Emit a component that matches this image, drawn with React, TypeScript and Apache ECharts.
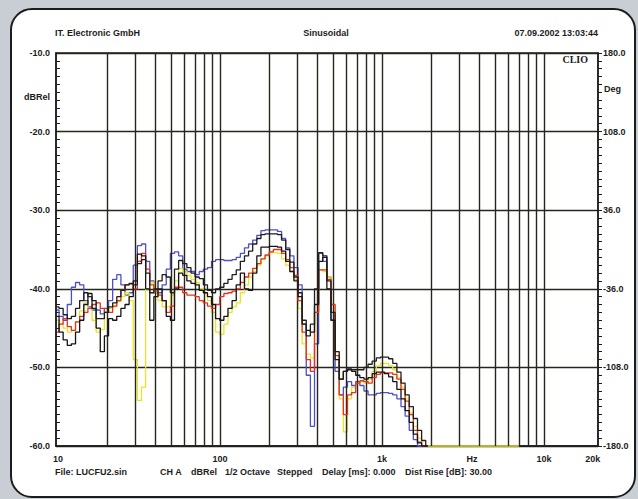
import React, { useEffect, useRef } from "react";
import * as echarts from "echarts";

// Frequencies (Hz) of the stepped measurement points
const freqs = [
  9.86, 10.45, 11.08, 11.75, 12.46, 13.21, 14.01, 14.86, 15.75, 16.7,
  17.71, 18.78, 19.92, 21.12, 22.39, 23.74, 25.18, 26.69, 28.3, 30.01,
  31.82, 33.75, 35.78, 37.94, 40.23, 42.66, 45.23, 47.96, 50.86, 53.93,
  57.18, 60.63, 64.29, 68.17, 72.28, 76.65, 81.27, 86.18, 91.2, 96.7,
  102.6, 108.8, 115.3, 122.3, 129.7, 137.5, 145.8, 154.5, 163.9, 173.8,
  184.2, 195.4, 207.2, 219.6, 232.9, 247, 261.9, 277.6, 294.4, 312.2,
  330.9, 350.9, 372.1, 394.5, 418.3, 443.6, 470.3, 498.7, 528.7, 560.6,
  594.4, 630.3, 668.3, 708.6, 751.4, 796.7, 844.7, 895.7, 949.7, 1006,
  1067, 1131, 1200, 1272, 1349, 1430, 1516, 1608, 1705, 1808,
  1917,
];

const blue = [
  -42.7, -43.5, -44, -42, -39.8, -39.2, -39.5, -41.5, -42.3, -42.7,
  -42.7, -43.2, -42.5, -41.5, -38.8, -38.2, -39.5, -40.8, -40.5, -37,
  -34.5, -34.3, -36.5, -39, -40.5, -40.5, -39.5, -37.5, -35.5, -35.3,
  -35.8, -37.5, -37.8, -37.8, -38.2, -37.8, -37.5, -37.3, -36.5, -36.3,
  -36.3, -36.4, -36.4, -36.3, -36, -35.5, -34.8, -34.3, -33.8, -33.2,
  -32.6, -32.5, -32.5, -32.5, -32.7, -33.6, -34.8, -35.8, -37.3, -39.5,
  -44.5, -51, -57.5, -47, -35.5, -36.5, -38.5, -44, -50.5, -53.5,
  -52.5, -51.8, -52.3, -51.8, -52.3, -53, -53.5, -53.5, -53.3, -53.2,
  -53.2, -53.3, -53.5, -54, -55, -56.2, -58, -59.2, -60, -60,
  -60,
];

const red = [
  -45.5, -44.5, -43.8, -44.8, -45.3, -44.2, -43.5, -43, -42.5, -42,
  -41.8, -42.5, -43, -43, -42.2, -41.5, -40.2, -39.5, -39.4, -40,
  -36.5, -35.5, -37.5, -39.5, -40.3, -40.8, -41.5, -43, -42.2, -39.8,
  -39.8, -40.5, -40.8, -40.8, -41, -41.5, -41.8, -42.2, -42.5, -42,
  -41, -40.6, -40.5, -40.3, -40, -39.2, -38.5, -38, -37.4, -36.8,
  -36.2, -35.7, -35.3, -35, -35, -35.5, -36.3, -37.3, -38.3, -41.5,
  -45.5, -49, -50.5, -43, -37.6, -37.6, -38.8, -42, -48.5, -53.5,
  -56, -53.5, -53.2, -52, -51.7, -51.8, -52, -51.3, -50.9, -50.7,
  -50.7, -50.7, -50.9, -51.5, -52.8, -54.3, -56, -58, -59.5, -60,
  -60,
];

const yellow = [
  -44, -44.5, -45, -45.5, -45.3, -44.2, -42.8, -41.8, -42.5, -44,
  -45.5, -45.2, -43, -42.5, -42.3, -41.6, -41, -40.5, -41.5, -49,
  -54.2, -52.5, -40, -39.2, -40.5, -41.5, -42.3, -42.3, -40.8, -39,
  -37.4, -37.8, -38.3, -38.8, -39.2, -40, -40.5, -41.5, -43, -45.5,
  -45.8, -44.5, -43, -42.3, -41.8, -40.5, -39.5, -38.5, -37.8, -37,
  -36.2, -35.8, -35.4, -35.4, -35.5, -36.2, -37, -37.8, -38.8, -42.5,
  -47, -48.3, -48.8, -43, -37.6, -37.8, -38.5, -42, -48, -54,
  -58.2, -54, -52.5, -52, -51.8, -52, -51.5, -50.5, -49.8, -49.5,
  -49.5, -49.8, -50.3, -51.3, -52.5, -54, -55.8, -57.5, -59, -60,
  -60,
];
// the yellow trace keeps running along the floor up to this frequency
const yellowTailFreq = 7000;
const yellowTailValue = -60;

const black1 = [
  -43.5, -45.5, -46.5, -47.2, -47, -45.5, -44, -42, -40.6, -41.5,
  -45, -48, -46, -43.8, -44, -43.5, -42.5, -42, -41, -39,
  -35.6, -35.8, -40, -44, -41, -40, -41.5, -43.5, -44, -40,
  -38, -38.3, -39, -39.3, -39.5, -40.2, -40.5, -41, -42, -43.8,
  -44, -43.5, -42.5, -41.5, -39.5, -38, -40, -40.2, -38, -35.8,
  -34.7, -34.7, -34.6, -34.6, -34.7, -35.2, -36.5, -37.8, -39, -41,
  -44.5, -45.3, -45.5, -42, -36.5, -36, -40, -44, -49, -51.5,
  -50.5, -50.3, -50.5, -51, -51.3, -51.5, -51.3, -50.8, -50.6, -50.6,
  -50.8, -51.2, -51.8, -52.8, -54, -55.5, -57, -58.5, -59.6, -60,
  -60,
];

const black2 = [
  -42.3, -42.5, -43.3, -43.8, -43.5, -42.5, -41.5, -40.5, -41, -42.5,
  -43.8, -43.8, -43, -42.3, -41.8, -41, -40.2, -39.5, -39.3, -39.5,
  -36.8, -36.3, -38, -40.5, -40, -39, -38.2, -38.5, -40.5, -37.5,
  -36.4, -36.8, -37.3, -38, -38.5, -38.7, -39.5, -40.2, -40.5, -40,
  -39.8, -39.3, -38.8, -38.2, -37.6, -36.5, -35.8, -35.2, -34.3, -33.6,
  -33.1, -33, -33, -33, -33.1, -33.8, -35, -36.6, -38.5, -40.5,
  -44, -46, -44.5, -40, -35.4, -35.8, -39, -43, -48, -51.5,
  -50.5, -50.2, -50.3, -50.3, -50.3, -50, -49.6, -49.2, -48.8, -48.7,
  -48.7, -48.9, -49.5, -50.6, -52, -53.5, -55, -56.5, -58, -59.3,
  -60,
];

// Axis ranges / ticks
const xMin = 9.72;
const xMax = 21540;
const gridFreqs = [
  20, 30, 40, 50, 60, 70, 80, 90, 100,
  200, 300, 400, 500, 600, 700, 800, 900, 1000,
  2000, 3000, 4000, 5000, 6000, 7000, 8000, 9000, 10000,
];
const xTickValues = [10, 100, 1000, 10000, 20000];
const xTickLabels = ["10", "100", "1k", "10k", "20k"];
const dbMin = -60;
const dbMax = -10;
const dbStep = 10;
const degLabels = ["-180.0", "-108.0", "-36.0", "36.0", "108.0", "180.0"];

const FONT = "'Liberation Sans', Arial, sans-serif";
const INK = "#1c1c1c";
const GRIDINK = "#26261c";

const txt = (text: string, x: number, y: number, align = "left", extra: any = {}) => ({
  type: "text",
  x,
  y,
  silent: true,
  style: {
    text,
    fill: INK,
    font: `bold 9px ${FONT}`,
    align,
    verticalAlign: "middle",
    ...extra,
  },
});

export default function App() {
  const ref = useRef<HTMLDivElement>(null);

  useEffect(() => {
    if (!ref.current) return;
    const chart = echarts.init(ref.current, null, { renderer: "svg" });

    const zip = (vals: number[]) => freqs.map((f, i) => [f, vals[i]]);
    const curve = (name: string, color: string, data: any[], z: number) => ({
      name,
      type: "line",
      step: "middle",
      data,
      symbol: "none",
      showSymbol: false,
      clip: false,
      silent: true,
      z,
      lineStyle: { color, width: 1.3 },
      emphasis: { disabled: true },
    });

    chart.setOption({
      animation: false,
      backgroundColor: "transparent",
      grid: {
        left: 56,
        right: 40,
        top: 53,
        bottom: 53,
        show: true,
        borderColor: INK,
        borderWidth: 1.5,
        backgroundColor: "transparent",
      },
      xAxis: {
        type: "log",
        logBase: 10,
        min: xMin,
        max: xMax,
        axisLine: { show: true, lineStyle: { color: INK, width: 1.5 } },
        axisTick: { show: false },
        axisLabel: { show: false },
        splitLine: { show: false },
      },
      yAxis: [
        {
          type: "value",
          min: dbMin,
          max: dbMax,
          interval: dbStep,
          axisLine: { show: true, lineStyle: { color: INK, width: 1.5 } },
          axisTick: { show: true, inside: true, length: 4, lineStyle: { color: INK } },
          minorTick: { show: true, splitNumber: 10, length: 4, lineStyle: { color: INK } },
          axisLabel: {
            formatter: (v: number) => v.toFixed(1),
            margin: 6,
            color: INK,
            fontSize: 9,
            fontWeight: "bold",
            fontFamily: FONT,
          },
          splitLine: { show: true, lineStyle: { color: GRIDINK, width: 1.4 } },
        },
        {
          type: "value",
          position: "right",
          min: 0,
          max: degLabels.length - 1,
          interval: 1,
          axisLine: { show: true, lineStyle: { color: INK, width: 1.5 } },
          axisTick: { show: true, inside: false, length: 4, lineStyle: { color: INK } },
          minorTick: { show: true, splitNumber: 10, length: 4, lineStyle: { color: INK } },
          axisLabel: {
            formatter: (v: number) => degLabels[Math.round(v)] ?? "",
            margin: 5,
            color: INK,
            fontSize: 9,
            fontWeight: "bold",
            fontFamily: FONT,
            padding: [0, 0, 6, 0],
          },
          splitLine: { show: false },
        },
      ],
      series: [
        {
          name: "grid",
          type: "line",
          data: [],
          silent: true,
          z: 1,
          markLine: {
            silent: true,
            symbol: ["none", "none"],
            label: { show: false },
            animation: false,
            lineStyle: { color: GRIDINK, width: 1.4, type: "solid" },
            emphasis: { disabled: true },
            data: gridFreqs.map((f) => ({ xAxis: f })),
          },
        },
        curve("blue", "#4f4fcc", zip(blue), 3),
        curve("yellow", "#e6e625", [...zip(yellow), [yellowTailFreq, yellowTailValue]], 4),
        curve("red", "#e8301e", zip(red), 5),
        curve("black1", "#141414", zip(black1), 6),
        curve("black2", "#1e1e1e", zip(black2), 7),
      ],
    });

    const xLabels = xTickValues.map((v, i) => {
      const px = chart.convertToPixel({ xAxisIndex: 0 }, v) as number;
      return txt(xTickLabels[i], px, 459, "center");
    });

    chart.setOption({
      graphic: [
        txt("IT. Electronic GmbH", 55, 33),
        txt("Sinusoidal", 326, 33, "center"),
        txt("07.09.2002 13:03:44", 598, 33, "right"),
        txt("dBRel", 50, 97, "right"),
        txt("Deg", 604, 89),
        txt("CLIO", 588, 59, "right", {
          font: "bold 10px 'Liberation Serif', 'DejaVu Serif', serif",
        }),
        ...xLabels,
        txt("Hz", 472, 459, "center"),
        txt("File: LUCFU2.sin", 55, 472),
        txt("CH A", 160, 472),
        txt("dBRel", 191, 472),
        txt("1/2 Octave", 225, 472),
        txt("Stepped", 277, 472),
        txt("Delay [ms]: 0.000", 322, 472),
        txt("Dist Rise [dB]: 30.00", 405, 472),
      ],
    });

    return () => chart.dispose();
  }, []);

  return (
    <div
      style={{
        position: "fixed",
        left: 0,
        top: 0,
        width: 638,
        height: 499,
        background: "#c8ced3",
        overflow: "hidden",
      }}
    >
      <div
        style={{
          position: "absolute",
          left: 10,
          top: 8,
          width: 626,
          height: 490,
          boxSizing: "border-box",
          border: "2.5px solid #1c1c1c",
          borderRadius: 22,
          background: "#ffffff",
        }}
      />
      <div
        ref={ref}
        style={{ position: "absolute", left: 0, top: 0, width: 638, height: 499 }}
      />
    </div>
  );
}
